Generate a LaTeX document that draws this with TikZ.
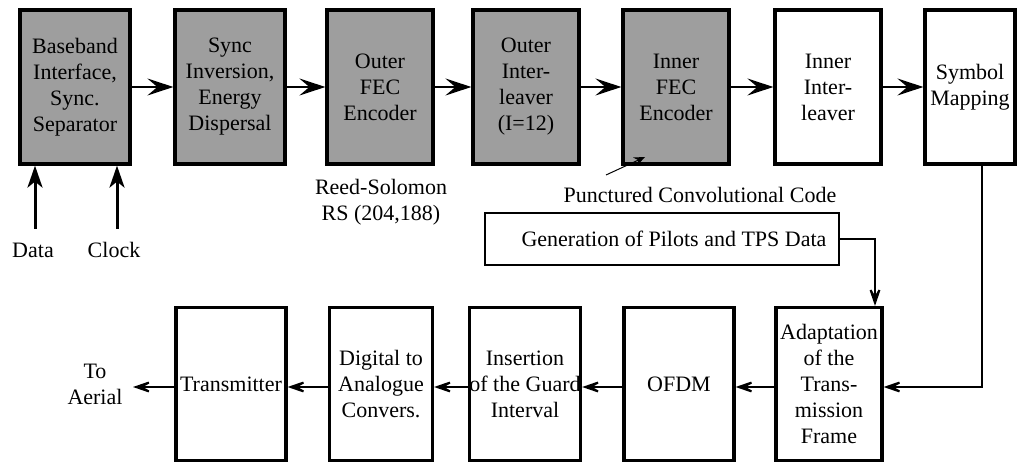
\documentclass[tikz,border=0pt]{standalone}
\usepackage{fontspec}
\setmainfont{Liberation Serif}
\newfontfamily\tmsfont{Liberation Serif}
\usetikzlibrary{arrows.meta}
\definecolor{boxgray}{RGB}{158,158,158}
\tikzset{
  blk/.style={draw, line width=3.2pt, minimum width=#1, minimum height=154pt, inner sep=0pt, align=center, font=\tmsfont\fontsize{22}{26}\selectfont},
  blk/.default=106pt,
  gblk/.style={blk=#1, fill=boxgray},
  gblk/.default=106pt,
  lbl/.style={align=center, inner sep=0pt, font=\tmsfont\fontsize{22}{26}\selectfont},
  fwd/.style={line width=2pt, -{Stealth[length=26pt, width=17pt, inset=10pt]}},
  upa/.style={line width=3pt, -{Stealth[length=22pt, width=15pt, inset=6pt]}},
  bwd/.style={line width=2pt, -{Stealth[length=26pt, width=18pt, inset=16pt]}},
  thin/.style={line width=1pt, -{Stealth[length=11pt, width=9pt]}}
}
\begin{document}
\begin{tikzpicture}[x=1pt,y=-1pt]
\useasboundingbox (0,0) rectangle (1020,462);
% top row
\node[gblk=110pt] (b1) at (75,87) {Baseband\\Interface,\\Sync.\\Separator};
\node[gblk=110pt] (b2) at (230,87) {Sync\\Inversion,\\Energy\\Dispersal};
\node[gblk] (b3) at (380,87) {Outer\\FEC\\Encoder};
\node[gblk] (b4) at (526,87) {Outer\\Inter-\\leaver\\(I=12)};
\node[gblk] (b5) at (676,87) {Inner\\FEC\\Encoder};
\node[blk] (b6) at (828,87) {Inner\\Inter-\\leaver};
\node[blk=90pt] (b7) at (970,87) {Symbol\\Mapping};
% bottom row
\node[blk=106pt, minimum height=153pt] (c1) at (829,384) {Adaptation\\of the\\Trans-\\mission\\Frame};
\node[blk=110pt, minimum height=153pt] (c2) at (679,384) {OFDM};
\node[blk=110pt, minimum height=153pt] (c3) at (525,384) {Insertion\\of the Guard\\Interval};
\node[blk=103pt, minimum height=153pt] (c4) at (381,384) {Digital to\\Analogue\\Convers.};
\node[blk=110pt, minimum height=153pt] (c5) at (231,384) {Transmitter};
% generation box
\node[draw, line width=2.4pt, minimum width=354pt, minimum height=52pt, inner sep=0pt, font=\tmsfont\fontsize{22}{26}\selectfont] (gen) at (662,239) {\hspace{24pt}Generation of Pilots and TPS Data};
% labels
\node[lbl] (data) at (33,250) {Data};
\node[lbl] (clock) at (114,250) {Clock};
\node[lbl] (rs) at (381,202) {Reed-Solomon\\RS (204,188)};
\node[lbl] (pcc) at (700,195) {Punctured Convolutional Code};
\node[lbl] (aerial) at (95,384) {To\\Aerial};
\coordinate (dtail) at (35,229);
\coordinate (ctail) at (117,229);
\coordinate (ptail) at (606,175);
\coordinate (phead) at (645,157);
\coordinate (out) at (133,387);
% connectors
\draw[fwd] (b1) -- (b2);
\draw[fwd] (b2) -- (b3);
\draw[fwd] (b3) -- (b4);
\draw[fwd] (b4) -- (b5);
\draw[fwd] (b5) -- (b6);
\draw[fwd] (b6) -- (b7);
\draw[upa] (dtail) -- (dtail |- b1.south);
\draw[upa] (ctail) -- (ctail |- b1.south);
\draw[thin] (ptail) -- (phead);
\draw[bwd] (b7.south -| 982,0) |- (c1.east |- 0,387);
\draw[bwd] (gen.east) -| (875,0 |- c1.north);
\draw[bwd] (c1.west |- 0,387) -- (c2.east |- 0,387);
\draw[bwd] (c2.west |- 0,387) -- (c3.east |- 0,387);
\draw[bwd] (c3.west |- 0,387) -- (c4.east |- 0,387);
\draw[bwd] (c4.west |- 0,387) -- (c5.east |- 0,387);
\draw[bwd] (c5.west |- 0,387) -- (out);
\end{tikzpicture}
\end{document}
